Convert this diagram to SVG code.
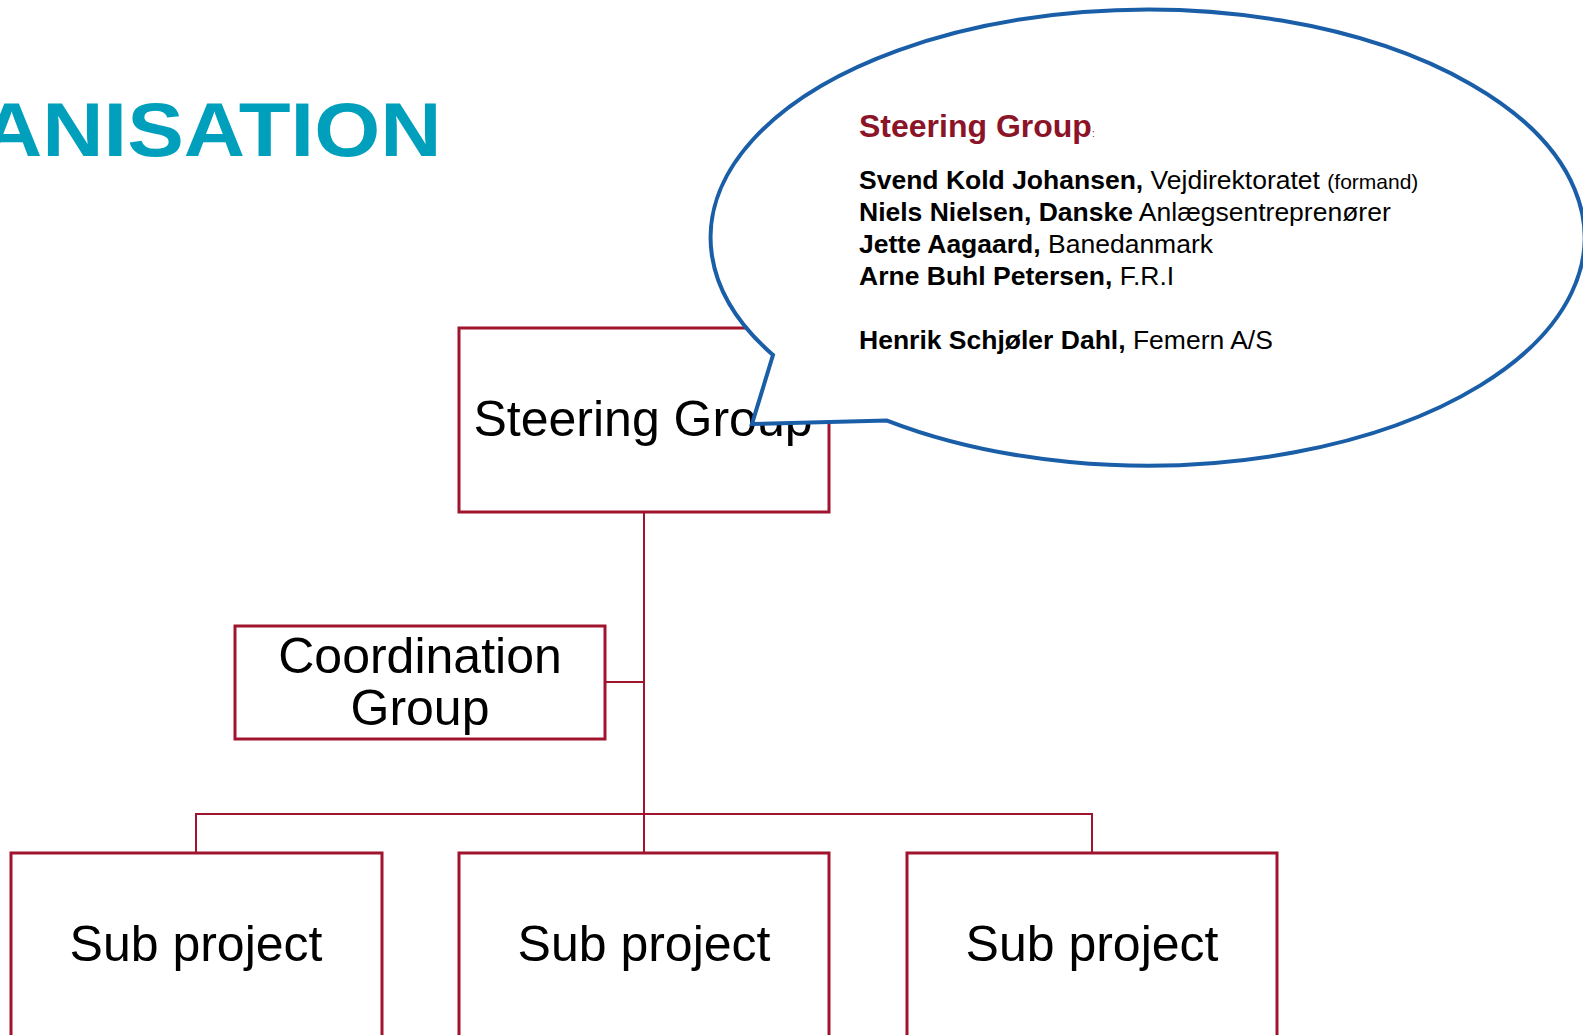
<svg xmlns="http://www.w3.org/2000/svg" width="1583" height="1035" viewBox="0 0 1583 1035">
<style>
.box{fill:#fff;stroke:#A0142E;stroke-width:3}
.conn{stroke:#A0142E;stroke-width:2;fill:none}
.lbl{font-family:"Liberation Sans",Arial,sans-serif;font-size:50px;fill:#000;text-anchor:middle}
.t{font-family:"Liberation Sans",Arial,sans-serif;font-size:26.5px;fill:#000}
.b{font-weight:bold}
</style>
<rect width="1583" height="1035" fill="#fff"/>
<text id="title" x="0" y="0" transform="translate(-19,156) scale(1.117,1)" style="font-family:'Liberation Sans',Arial,sans-serif;font-weight:bold;font-size:76px;fill:#00A0BC">ANISATION</text>
<g id="connectors">
<line class="conn" x1="644" y1="512" x2="644" y2="853"/>
<line class="conn" x1="605" y1="682" x2="644" y2="682"/>
<polyline class="conn" points="196,853 196,814 1092,814 1092,853"/>
</g>
<g id="steering">
<rect class="box" x="459" y="328" width="370" height="184"/>
<text class="lbl" x="643" y="436">Steering Group</text>
</g>
<g id="coordination">
<rect class="box" x="235" y="626" width="370" height="113"/>
<text class="lbl" x="420" y="673">Coordination</text>
<text class="lbl" x="420" y="725">Group</text>
</g>
<g id="sub1">
<rect class="box" x="11" y="853" width="371" height="200"/>
<text class="lbl" x="196" y="961">Sub project</text>
</g>
<g id="sub2">
<rect class="box" x="459" y="853" width="370" height="200"/>
<text class="lbl" x="644" y="961">Sub project</text>
</g>
<g id="sub3">
<rect class="box" x="907" y="853" width="370" height="200"/>
<text class="lbl" x="1092" y="961">Sub project</text>
</g>
<g id="callout">
<path d="M773,355 L752,424 L887,420.6 A437,228 0 1 0 773,355 Z" fill="#fff" stroke="#1A5EA8" stroke-width="4" stroke-linejoin="miter"/>
<text x="859" y="137" style="font-family:'Liberation Sans',Arial,sans-serif;font-weight:bold;font-size:32px;fill:#8B1428">Steering Group<tspan style="font-size:10px;font-weight:normal">:</tspan></text>
<text class="t" x="859" y="189"><tspan class="b">Svend Kold Johansen,</tspan> Vejdirektoratet <tspan style="font-size:21px">(formand)</tspan></text>
<text class="t" x="859" y="221"><tspan class="b">Niels Nielsen, Danske</tspan> Anlægsentreprenører</text>
<text class="t" x="859" y="253"><tspan class="b">Jette Aagaard,</tspan> Banedanmark</text>
<text class="t" x="859" y="285"><tspan class="b">Arne Buhl Petersen,</tspan> F.R.I</text>
<text class="t" x="859" y="349"><tspan class="b">Henrik Schjøler Dahl,</tspan> Femern A/S</text>
</g>
</svg>
